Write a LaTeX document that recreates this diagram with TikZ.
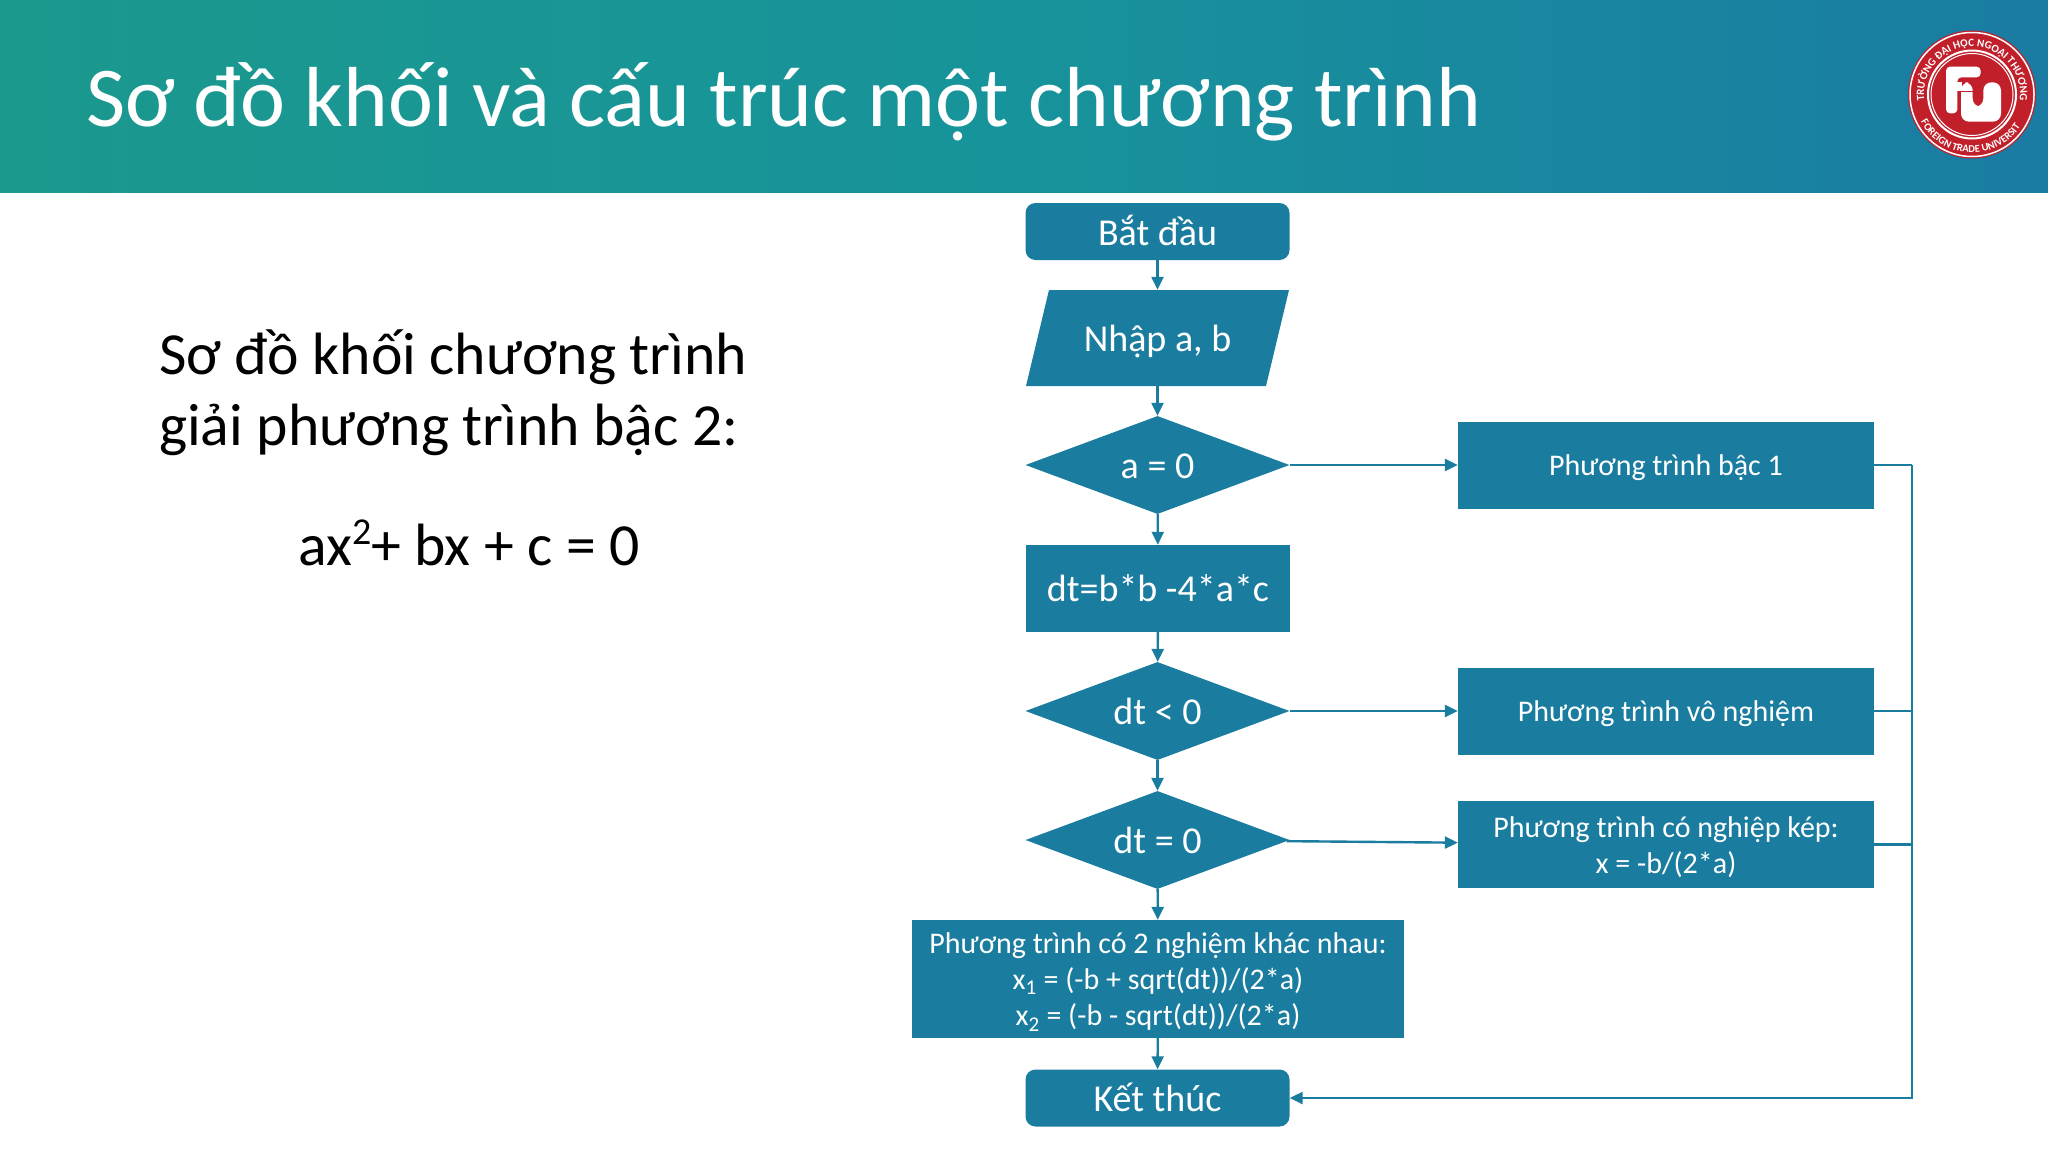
\documentclass[tikz,border=0pt]{standalone}
\usepackage{fontspec}
\setmainfont{Carlito}
\usetikzlibrary{shapes.geometric,arrows.meta,decorations.text}
\definecolor{flowblue}{HTML}{1A7C9F}
\definecolor{bannerleft}{HTML}{1B998D}
\definecolor{bannermid}{HTML}{17939B}
\definecolor{bannerright}{HTML}{1A7BA3}
\definecolor{logored}{HTML}{C1202B}
\tikzset{
  flowtext/.style={text=white,font=\fontsize{30}{36}\selectfont,align=center,inner sep=0pt},
  flowbig/.style={flowtext,font=\fontsize{38}{40}\selectfont,text height=29pt,text depth=3pt},
  startbox/.style={flowbig,fill=flowblue,rounded corners=10pt,minimum width=264pt,minimum height=57pt,text height=30pt,text depth=3pt},
  inputbox/.style={flowbig,minimum width=264pt,minimum height=96pt},
  decisionbox/.style={flowbig,fill=flowblue,shape=diamond,aspect=2.7,minimum width=264pt,minimum height=98pt},
  stepbox/.style={flowbig,fill=flowblue,minimum width=264pt,minimum height=87pt},
  resultbox/.style={flowtext,fill=flowblue,minimum width=416pt,minimum height=87pt},
  link/.style={flowblue,line width=2.4pt,-{Triangle[length=13pt,width=12pt]}},
  rail/.style={flowblue,line width=2.4pt}
}
\begin{document}
\begin{tikzpicture}[x=1pt,y=-1pt]
  \useasboundingbox (0,0) rectangle (2048,1152);
  \fill[left color=bannerleft,right color=bannerright,middle color=bannermid] (0,0) rectangle (2048,192);
  \fill[flowblue] (1049,290) -- (1289,290) -- (1266,386) -- (1026,386) -- cycle;
  \draw
    (86,102) node[anchor=west,text=white,inner sep=0pt,font=\fontsize{85.2}{90}\selectfont] (title){Sơ đồ khối và cấu trúc một chương trình}
    (159,357) node[anchor=west,inner sep=0pt,font=\fontsize{59.7}{72}\selectfont] (head1){Sơ đồ khối chương trình}
    (159,430) node[anchor=west,inner sep=0pt,font=\fontsize{59.7}{72}\selectfont] (head2){giải phương trình bậc 2:}
    (469,543) node[inner sep=0pt,font=\fontsize{59.7}{72}\selectfont] (equation){ax\raisebox{0.36em}{\fontsize{38}{40}\selectfont 2}+ bx + c = 0};
  \draw
    (1157.5,231.5) node[startbox] (begin){Bắt đầu}
    (1157.5,338) node[inputbox] (input){Nhập a, b}
    (1157.5,465) node[decisionbox] (a0){a = 0}
    (1158,588.5) node[stepbox] (delta){dt=b*b -4*a*c}
    (1157.5,711) node[decisionbox] (dt1){dt < 0}
    (1157.5,840) node[decisionbox] (dt0){dt = 0}
    (1158,979) node[resultbox,minimum width=492pt,minimum height=118pt] (two){\rule{0pt}{27pt}Phương trình có 2 nghiệm khác nhau:\\
      x\textsubscript{1} = (-b + sqrt(dt))/(2*a)\\x\textsubscript{2} = (-b - sqrt(dt))/(2*a)}
    (1157.5,1098) node[startbox] (end){Kết thúc}
    (1666,465) node[resultbox,text height=24pt,text depth=4pt] (linear){Phương trình bậc 1}
    (1666,711) node[resultbox,text height=24pt,text depth=4pt] (none){Phương trình vô nghiệm}
    (1666,844.5) node[resultbox] (double){\rule{0pt}{27pt}Phương trình có nghiệp kép:\\x = -b/(2*a)}
    (1912,465) coordinate (railtop);
  \begin{scope}[link]
    \draw (begin) to (input);
    \draw (input) to (a0);
    \draw (a0) to (delta);
    \draw (delta) to (dt1);
    \draw (dt1) to (dt0);
    \draw (dt0) to (two);
    \draw (two) to (end);
    \draw (a0) to (linear);
    \draw (dt1) to (none);
    \draw (dt0) to (double);
  \end{scope}
  \draw[rail] (linear) -- (railtop);
  \draw[link] (railtop) |- (end);
  \draw[rail] (none) -- (none -| railtop);
  \draw[rail] (double) -- (double -| railtop);
  % logo
  \fill[logored] (1972,94.5) circle (64);
  \draw[white,line width=1.5pt] (1972,94.5) circle (62);
  \draw[white,line width=2pt] (1972,94.5) circle (44);
  \draw[white,line width=1pt] (1972,94.5) circle (41);
  \path[decorate,decoration={text along path,text align=center,
      text={|\fontsize{11}{12}\selectfont\color{white}\bfseries|TRƯỜNG ĐẠI HỌC NGOẠI THƯƠNG}}]
    (1925.1,104.5) arc[start angle=-192,end angle=12,radius=48];
  \path[decorate,decoration={text along path,text align=center,
      text={|\fontsize{10.5}{12}\selectfont\color{white}\bfseries|FOREIGN TRADE UNIVERSITY}}]
    (1924.5,128) arc[start angle=-215,end angle=-325,radius=58];
  \begin{scope}[shift={(1930,50)},x=0.3333pt,y=-0.3333pt]
    \fill[white,rounded corners=4pt] (48,50) -- (152,50) -- (152,82) -- (82,82) -- (82,190) -- (48,190) -- cycle;
    \fill[white,rounded corners=8pt] (93,97) -- (128,97) -- (128,170) -- (160,170) -- (160,97) -- (213,97) -- (213,215) -- (93,215) -- cycle;
    \fill[white] (80,97) rectangle (95,122);
    \draw[logored,line width=1pt] (85,125) -- (128,125);
  \end{scope}
\end{tikzpicture}
\end{document}
